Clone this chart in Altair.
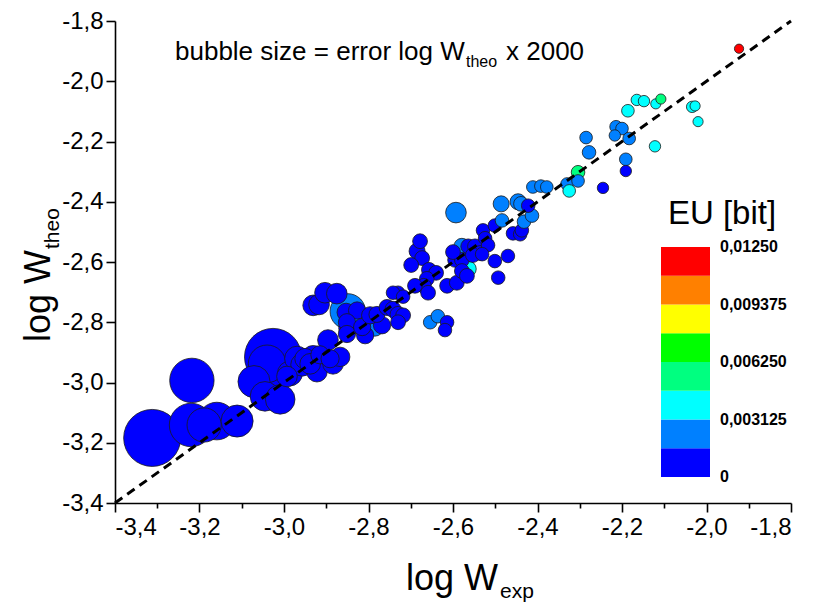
import altair as alt
import pandas as pd

# ---- data ----
log_w_exp = [
    -3.312, -3.218, -3.220, -3.189, -3.159, -3.111, -3.026, -3.040, -3.031, -3.071,
    -3.045, -3.009, -2.986, -2.969, -2.993, -2.957, -2.950, -2.931, -2.922, -2.938,
    -2.915, -2.891, -2.884, -2.867, -2.896, -2.931, -2.917, -2.903, -2.875, -2.849,
    -2.853, -2.827, -2.849, -2.851, -2.851, -2.808, -2.815, -2.785, -2.768, -2.796,
    -2.780, -2.756, -2.742, -2.730, -2.718, -2.730, -2.742, -2.718, -2.730, -2.678,
    -2.685, -2.673, -2.699, -2.657, -2.640, -2.662, -2.669, -2.690, -2.659, -2.614,
    -2.591, -2.654, -2.636, -2.614, -2.619, -2.593, -2.579, -2.595, -2.579, -2.564,
    -2.548, -2.536, -2.564, -2.579, -2.567, -2.501, -2.470, -2.493, -2.529, -2.524,
    -2.517, -2.531, -2.501, -2.484, -2.458, -2.441, -2.437, -2.432, -2.413, -2.422,
    -2.486, -2.446, -2.439, -2.411, -2.392, -2.378, -2.600, -2.553, -2.330, -2.325,
    -2.304, -2.304, -2.285, -2.278, -2.245, -2.214, -2.200, -2.217, -2.183, -2.191,
    -2.191, -2.186, -2.165, -2.148, -2.120, -2.108, -2.122, -2.034, -2.027, -2.020,
    -1.923,
]
log_w_theo = [
    -3.184, -2.993, -3.141, -3.141, -3.128, -3.128, -2.915, -2.938, -2.970, -2.997,
    -3.046, -3.056, -2.970, -2.921, -2.980, -2.941, -2.921, -2.915, -2.964, -2.938,
    -2.908, -2.921, -2.938, -2.915, -2.859, -2.744, -2.741, -2.702, -2.705, -2.764,
    -2.767, -2.761, -2.820, -2.800, -2.839, -2.843, -2.816, -2.816, -2.810, -2.777,
    -2.774, -2.751, -2.757, -2.774, -2.777, -2.702, -2.702, -2.715, -2.800, -2.531,
    -2.564, -2.587, -2.610, -2.626, -2.636, -2.656, -2.679, -2.679, -2.702, -2.679,
    -2.669, -2.800, -2.780, -2.800, -2.826, -2.436, -2.548, -2.593, -2.593, -2.548,
    -2.548, -2.570, -2.623, -2.630, -2.646, -2.597, -2.580, -2.652, -2.495, -2.521,
    -2.544, -2.574, -2.479, -2.462, -2.505, -2.508, -2.495, -2.466, -2.446, -2.413,
    -2.407, -2.400, -2.407, -2.351, -2.348, -2.351, -2.567, -2.577, -2.341, -2.364,
    -2.302, -2.331, -2.187, -2.236, -2.354, -2.151, -2.157, -2.180, -2.190, -2.259,
    -2.298, -2.098, -2.062, -2.066, -2.075, -2.059, -2.216, -2.085, -2.082, -2.134,
    -1.892,
]
error_log_w_theo = [
    0.0185, 0.0144, 0.0141, 0.0111, 0.0122, 0.0104, 0.0185, 0.0122, 0.0130, 0.0104,
    0.0096, 0.0096, 0.0081, 0.0081, 0.0067, 0.0074, 0.0067, 0.0074, 0.0067, 0.0067,
    0.0059, 0.0059, 0.0067, 0.0063, 0.0067, 0.0067, 0.0067, 0.0067, 0.0067, 0.0115,
    0.0059, 0.0056, 0.0059, 0.0056, 0.0056, 0.0056, 0.0056, 0.0059, 0.0056, 0.0056,
    0.0052, 0.0052, 0.0052, 0.0052, 0.0048, 0.0044, 0.0044, 0.0044, 0.0048, 0.0048,
    0.0052, 0.0048, 0.0048, 0.0048, 0.0048, 0.0048, 0.0048, 0.0048, 0.0048, 0.0048,
    0.0048, 0.0044, 0.0044, 0.0044, 0.0044, 0.0067, 0.0052, 0.0048, 0.0048, 0.0048,
    0.0048, 0.0048, 0.0052, 0.0048, 0.0048, 0.0044, 0.0044, 0.0044, 0.0044, 0.0044,
    0.0044, 0.0044, 0.0044, 0.0044, 0.0044, 0.0044, 0.0044, 0.0044, 0.0044, 0.0044,
    0.0052, 0.0052, 0.0048, 0.0041, 0.0041, 0.0041, 0.0048, 0.0048, 0.0041, 0.0041,
    0.0044, 0.0041, 0.0041, 0.0044, 0.0037, 0.0041, 0.0041, 0.0037, 0.0041, 0.0041,
    0.0037, 0.0041, 0.0037, 0.0037, 0.0033, 0.0033, 0.0037, 0.0037, 0.0033, 0.0033,
    0.0030,
]
eu_bit = [
    0.0008, 0.0008, 0.0008, 0.0008, 0.0008, 0.0008, 0.0008, 0.0008, 0.0008, 0.0008,
    0.0008, 0.0008, 0.0008, 0.0008, 0.0008, 0.0008, 0.0008, 0.0008, 0.0008, 0.0008,
    0.0008, 0.0008, 0.0008, 0.0008, 0.0008, 0.0008, 0.0008, 0.0008, 0.0008, 0.0024,
    0.0008, 0.0008, 0.0008, 0.0008, 0.0008, 0.0008, 0.0008, 0.0024, 0.0008, 0.0008,
    0.0008, 0.0008, 0.0008, 0.0008, 0.0008, 0.0008, 0.0008, 0.0008, 0.0008, 0.0008,
    0.0008, 0.0008, 0.0008, 0.0008, 0.0008, 0.0008, 0.0008, 0.0008, 0.0008, 0.0008,
    0.0008, 0.0024, 0.0024, 0.0008, 0.0008, 0.0024, 0.0024, 0.0008, 0.0008, 0.0008,
    0.0008, 0.0008, 0.0039, 0.0008, 0.0008, 0.0008, 0.0008, 0.0008, 0.0008, 0.0008,
    0.0008, 0.0008, 0.0008, 0.0024, 0.0008, 0.0008, 0.0008, 0.0024, 0.0024, 0.0008,
    0.0024, 0.0024, 0.0024, 0.0024, 0.0024, 0.0024, 0.0008, 0.0008, 0.0024, 0.0039,
    0.0054, 0.0024, 0.0024, 0.0024, 0.0008, 0.0024, 0.0024, 0.0024, 0.0024, 0.0024,
    0.0008, 0.0039, 0.0039, 0.0039, 0.0039, 0.0054, 0.0039, 0.0039, 0.0039, 0.0039,
    0.0122,
]
ref_line = [-3.4, -1.8]

# colour bar (8 classes of EU)
eu_colors = ["#0000FF", "#0080FF", "#00FFFF", "#00FF80",
             "#00FF00", "#FFFF00", "#FF8000", "#FF0000"]
eu_bin_lo = [0.0, 0.0015625, 0.003125, 0.0046875, 0.00625, 0.0078125, 0.009375, 0.0109375]
eu_bin_hi = [0.0015625, 0.003125, 0.0046875, 0.00625, 0.0078125, 0.009375, 0.0109375, 0.0125]
eu_label_values = [0.0, 0.003125, 0.00625, 0.009375, 0.0125]
eu_label_texts = ["0", "0,003125", "0,006250", "0,009375", "0,01250"]

tick_values = [round(-3.4 + 0.1 * i, 1) for i in range(17)]

FONT = "Liberation Sans"

df = pd.DataFrame({"x": log_w_exp, "y": log_w_theo,
                   "err": error_log_w_theo, "eu": eu_bit})
line_df = pd.DataFrame({"x": ref_line, "y": ref_line})
bar_df = pd.DataFrame({"lo": eu_bin_lo, "hi": eu_bin_hi, "c": eu_colors})
lab_df = pd.DataFrame({"v": eu_label_values, "t": eu_label_texts})

label_expr = ("abs(round(datum.value*10)) % 2 == 0 ? "
              "'-' + replace(format(abs(datum.value), '.1f'), '.', ',') : ''")
tick_size = {"condition": {"test": "abs(round(datum.value*10)) % 2 == 1", "value": 5},
             "value": 9}

common_axis = dict(values=tick_values, labelExpr=label_expr, tickSize=tick_size,
                   grid=False, title=None, domainColor="black", domainWidth=1.6,
                   tickColor="black", tickWidth=1.6, labelFont=FONT,
                   labelFontSize=24, labelColor="black", labelOverlap=False,
                   labelPadding=3)

x_enc = alt.X("x:Q", scale=alt.Scale(domain=[-3.4, -1.8], nice=False, zero=False),
              axis=alt.Axis(**common_axis))
y_enc = alt.Y("y:Q", scale=alt.Scale(domain=[-3.4, -1.8], nice=False, zero=False),
              axis=alt.Axis(**common_axis))

bubbles = alt.Chart(df).mark_circle(opacity=1, stroke="#1a1a1a", strokeWidth=0.8).encode(
    x=x_enc,
    y=y_enc,
    size=alt.Size("err:Q", scale=alt.Scale(type="pow", exponent=2, domain=[0, 0.02],
                                           range=[0, 3800]), legend=None),
    color=alt.Color("eu:Q",
                    scale=alt.Scale(type="quantize", domain=[0, 0.0125], range=eu_colors,
                                    nice=False, zero=False),
                    legend=None),
    order=alt.Order("err:Q", sort="descending"),
)

line = alt.Chart(line_df).mark_line(color="black", strokeWidth=3,
                                    strokeDash=[9, 6]).encode(x="x:Q", y="y:Q")


def text_layer(txt, x, y, size, angle=0, align="left"):
    return alt.Chart(pd.DataFrame({"t": [txt]})).mark_text(
        font=FONT, fontSize=size, color="black", align=align,
        baseline="alphabetic", angle=angle
    ).encode(x=alt.value(x), y=alt.value(y), text="t:N")


texts = [
    text_layer("bubble size = error log W", 60, 39, 26),
    text_layer("theo", 351, 46, 16),
    text_layer("x 2000", 391, 39, 26),
    text_layer("log W", 291, 569, 36),
    text_layer("exp", 385, 577, 21),
    text_layer("log W", -65, 321, 36, angle=270),
    text_layer("theo", -56, 228, 21, angle=270),
]

main = alt.layer(bubbles, line, *texts)

# colour bar legend
leg_scale = alt.Scale(domain=[0, 0.0125], range=[456, 226], nice=False, zero=False)
bar = alt.Chart(bar_df).mark_rect().encode(
    x=alt.value(546), x2=alt.value(595),
    y=alt.Y("lo:Q", scale=leg_scale, axis=None), y2="hi:Q",
    color=alt.Color("c:N", scale=None),
)
bar_labels = alt.Chart(lab_df).mark_text(
    font=FONT, fontSize=16, fontWeight="bold", color="black",
    align="left", baseline="middle"
).encode(x=alt.value(605), y=alt.Y("v:Q", scale=leg_scale, axis=None), text="t:N")
bar_title = text_layer("EU [bit]", 607, 203, 33, align="center")

legend = alt.layer(bar, bar_labels, bar_title)

chart = alt.layer(main, legend).resolve_scale(y="independent", color="independent").properties(
    width=676, height=482,
    padding={"left": 107, "top": 13, "right": 15, "bottom": 102},
    autosize=alt.AutoSizeParams(type="none"),
).configure_view(stroke=None)

chart.save("out.html", embed_options={"renderer": "svg", "actions": False})
